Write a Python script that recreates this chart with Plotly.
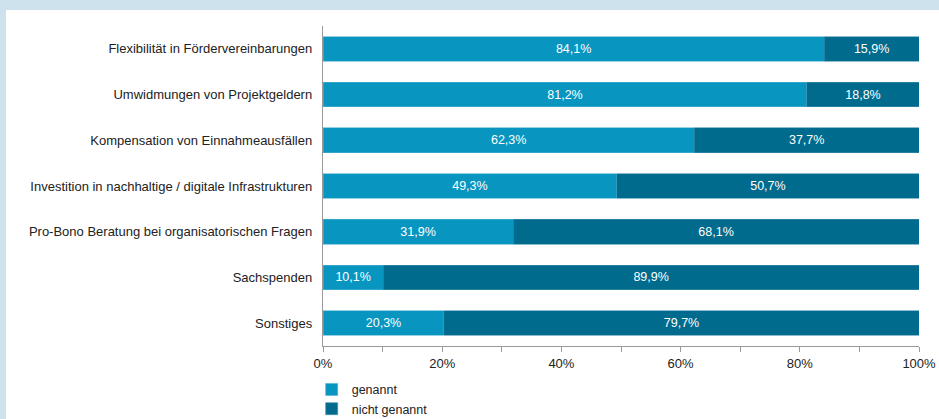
import plotly.graph_objects as go

categories = [
    "Flexibilität in Fördervereinbarungen",
    "Umwidmungen von Projektgeldern",
    "Kompensation von Einnahmeausfällen",
    "Investition in nachhaltige / digitale Infrastrukturen",
    "Pro-Bono Beratung bei organisatorischen Fragen",
    "Sachspenden",
    "Sonstiges",
]
genannt = [84.1, 81.2, 62.3, 49.3, 31.9, 10.1, 20.3]
nicht_genannt = [15.9, 18.8, 37.7, 50.7, 68.1, 89.9, 79.7]
tick_values = [0, 20, 40, 60, 80, 100]
tick_labels = ["0%", "20%", "40%", "60%", "80%", "100%"]

C_LIGHT = "#0896c1"
C_DARK = "#016b8e"
FONT = "Liberation Sans, Arial, sans-serif"


def fmt(v):
    return f"{v:.1f}%".replace(".", ",")


fig = go.Figure()
fig.add_trace(go.Bar(
    y=categories, x=genannt, orientation="h", name="genannt",
    marker=dict(color=C_LIGHT, line=dict(color="#4fb0d3", width=0.6)),
    text=[fmt(v) for v in genannt], textposition="inside",
    insidetextanchor="middle", textangle=0,
    textfont=dict(color="white", size=12.5, family=FONT),
))
fig.add_trace(go.Bar(
    y=categories, x=nicht_genannt, orientation="h", name="nicht genannt",
    marker=dict(color=C_DARK, line=dict(color="#3f8fab", width=0.6)),
    text=[fmt(v) for v in nicht_genannt], textposition="inside",
    insidetextanchor="middle", textangle=0,
    textfont=dict(color="white", size=12.5, family=FONT),
))

L, R, T, B = 323, 20, 26, 73
W, H = 939, 419
pw, ph = W - L - R, H - T - B

fig.update_layout(
    width=W, height=H,
    margin=dict(l=L, r=R, t=T, b=B, pad=0, autoexpand=False),
    barmode="stack", bargap=0.46,
    paper_bgcolor="#cde2ec", plot_bgcolor="white",
    font=dict(family=FONT, size=13, color="#222222"),
    uniformtext=dict(minsize=8, mode="show"),
    showlegend=True,
    legend=dict(
        orientation="v", x=-0.019, xanchor="left", y=-0.09, yanchor="top",
        traceorder="normal",
        font=dict(size=12.5, family=FONT, color="#222222"),
        bgcolor="rgba(0,0,0,0)", tracegroupgap=0, itemwidth=30,
    ),
    shapes=[dict(
        type="rect", xref="paper", yref="paper", layer="below",
        x0=(6 - L) / pw, x1=(W - L) / pw + 0.01,
        y0=-(H - (T + ph)) / ph - 0.01, y1=1 + (T - 10) / ph,
        fillcolor="white", line=dict(width=0),
    )],
)
fig.update_xaxes(
    range=[0, 100], tickvals=tick_values, ticktext=tick_labels,
    showgrid=False, zeroline=False, automargin=False,
    showline=True, linecolor="#9a9a9a", linewidth=1,
    ticks="outside", ticklen=5, tickcolor="#9a9a9a",
    minor=dict(dtick=10, ticks="outside", ticklen=5, tickcolor="#9a9a9a", showgrid=False),
    tickfont=dict(size=13, color="#222222"),
)
fig.update_yaxes(
    autorange="reversed", showgrid=False, zeroline=False, automargin=False,
    showline=True, linecolor="#9a9a9a", linewidth=1,
    ticks="", ticksuffix="  ",
    tickfont=dict(size=13, color="#222222"),
)

fig.write_html(
    "out.html",
    config={"displayModeBar": False},
    post_script="document.body.style.margin='0';document.body.style.overflow='hidden';",
)
